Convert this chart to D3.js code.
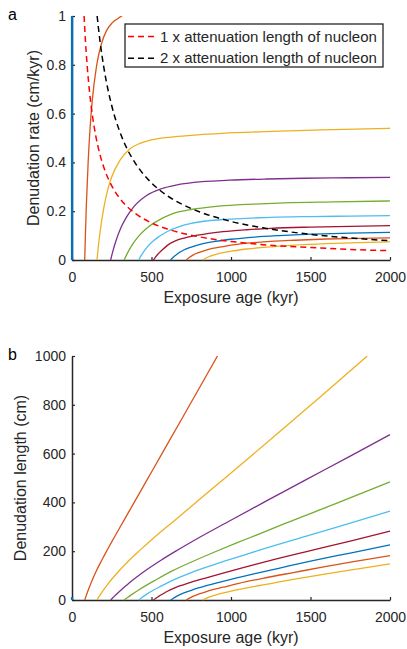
<!DOCTYPE html>
<html><head><meta charset="utf-8">
<script src="https://cdn.jsdelivr.net/npm/d3@7"></script>
<style>body{margin:0;background:#fff}svg{display:block;font-family:"Liberation Sans",Arial,sans-serif}</style>
</head><body><svg id="c" width="407" height="649"></svg>
<script>
const colors = ["#0072BD","#D95319","#EDB120","#7E2F8E","#77AC30","#4DBEEE","#A2142F","#0072BD","#D95319","#EDB120"];
const xTicks = [0,500,1000,1500,2000];
const rateTicks = [0,0.2,0.4,0.6,0.8,1];
const lenTicks = [0,200,400,600,800,1000];
const legendLabels = ["1 x attenuation length of nucleon","2 x attenuation length of nucleon"];

// Panel a: denudation rate (cm/kyr) vs exposure age (kyr)
const rateAge0 = [0,0], rate0 = [0,1];
const rateAge1 = [80,84.1,90.4,101.7,113.7,126.6,154.5,185.1,217.9,252.6,288.7,326,400];
const rate1    = [0,0.0975,0.227,0.403,0.541,0.648,0.796,0.886,0.941,0.972,0.99,1.006,1.03];
const rateAge2 = [157,165,177.4,199.5,223.2,248.4,303.1,363.2,427.6,495.7,639.8,790.1,944,1256,1570,2000];
const rate2    = [0,0.0512,0.119,0.212,0.284,0.338,0.41,0.455,0.478,0.492,0.505,0.513,0.519,0.527,0.533,0.54];
const rateAge3 = [243,255.4,274.6,308.8,345.4,384.4,469.2,562.1,661.8,767.3,990.2,1223,1461,1750,2000];
const rate3    = [0,0.032,0.075,0.134,0.179,0.215,0.264,0.292,0.308,0.318,0.327,0.332,0.335,0.337,0.339];
const rateAge4 = [328,344.7,370.7,416.8,466.2,518.9,633.3,758.7,893.2,1035.7,1183.7,1336.6,1650.7,2000];
const rate4    = [0,0.023,0.054,0.0955,0.128,0.153,0.19,0.208,0.219,0.226,0.23,0.234,0.238,0.242];
const rateAge5 = [420,432,450,475,500,550,600,675,750,850,950,1100,1250,1500,1750,2000];
const rate5    = [0,0.015,0.033,0.055,0.072,0.097,0.117,0.137,0.15,0.16,0.166,0.171,0.175,0.178,0.18,0.182];
const rateAge6 = [512,525,545,570,600,650,700,750,850,950,1100,1250,1500,1750,2000];
const rate6    = [0,0.012,0.027,0.043,0.06,0.078,0.089,0.097,0.108,0.116,0.124,0.13,0.135,0.138,0.141];
const rateAge7 = [620,635,660,700,750,800,900,1000,1150,1300,1500,1750,2000];
const rate7    = [0,0.01,0.024,0.04,0.053,0.063,0.076,0.085,0.094,0.1,0.106,0.11,0.113];
const rateAge8 = [718,735,760,800,850,950,1050,1200,1400,1600,1800,2000];
const rate8    = [0,0.009,0.02,0.031,0.042,0.055,0.065,0.074,0.081,0.086,0.089,0.091];
const rateAge9 = [822,840,870,920,1000,1100,1250,1400,1600,1800,2000];
const rate9    = [0,0.007,0.016,0.026,0.036,0.045,0.054,0.061,0.067,0.071,0.074];
const att1Age  = [76,85,95,110,130,150,175,200,250,300,350,400,500,600,800,1000,1200,1500,1800,2000];
const att1Rate = [1.0,0.894,0.8,0.691,0.585,0.507,0.434,0.38,0.304,0.253,0.217,0.19,0.152,0.127,0.095,0.076,0.063,0.051,0.042,0.038];
const att2Age  = [158,175,200,250,300,350,400,500,600,700,800,1000,1200,1500,1800,2000];
const att2Rate = [1.0,0.903,0.79,0.632,0.527,0.451,0.395,0.316,0.263,0.226,0.198,0.158,0.132,0.105,0.088,0.079];

// Panel b: denudation length (cm) vs exposure age (kyr)
const lenAge0 = [0,0], len0 = [0,12];
const lenAge1 = [80,90,100,115,130,150,175,200,230,260,300,350,420,511,700,915];
const len1    = [0,19,37,62,86,115,148,179,215,250,296,353,433,537,753,1000];
const lenAge2 = [157,165,177.4,199.5,223.2,248.4,303.1,363.2,427.6,495.7,639.8,790.1,944,1256,1570,1857];
const len2    = [0,8.4,21.1,42.3,63.4,84,124.3,165.3,204.4,243.9,323.1,405.3,489.9,661.9,836.8,1000];
const lenAge3 = [243,255.4,274.6,308.8,345.4,384.4,469.2,562.1,661.8,767.3,990.2,1223,1461,1750,2000];
const len3    = [0,8.2,20.6,41.4,61.8,82.6,123.9,164.1,203.8,244,323.8,406,489.4,589.8,678];
const lenAge4 = [328,344.7,370.7,416.8,466.2,518.9,633.3,758.7,893.2,1035.7,1183.7,1336.6,1650.7,2000];
const len4    = [0,7.9,20,39.8,59.7,79.4,120.3,157.8,195.6,234.1,272.3,312.8,392.9,484];
const lenAge5 = [420,432,450,475,500,550,600,675,750,850,950,1100,1250,1500,1750,2000];
const len5    = [0,6.5,14.9,26.1,36,53.4,70.2,92.5,112.5,136,157.7,188.1,218.8,267,315,364];
const lenAge6 = [512,525,545,570,600,650,700,750,850,950,1100,1250,1500,1750,2000];
const len6    = [0,6.3,14.7,24.5,36,50.7,62.3,72.8,91.8,110.2,136.4,162.5,202.5,241.5,282];
const lenAge7 = [620,635,660,700,750,800,900,1000,1150,1300,1500,1750,2000];
const len7    = [0,6.4,15.8,28,39.8,50.4,68.4,85,108.1,130,159,192.5,226];
const lenAge8 = [718,735,760,800,850,950,1050,1200,1400,1600,1800,2000];
const len8    = [0,6.6,15.2,24.8,35.7,52.3,68.3,88.8,113.4,137.6,160.2,182];
const lenAge9 = [822,840,870,920,1000,1100,1250,1400,1600,1800,2000];
const len9    = [0,5.9,13.9,23.9,36,49.5,67.5,85.4,107.2,127.8,148];

const rateSeries = [[rateAge0,rate0],[rateAge1,rate1],[rateAge2,rate2],[rateAge3,rate3],[rateAge4,rate4],[rateAge5,rate5],[rateAge6,rate6],[rateAge7,rate7],[rateAge8,rate8],[rateAge9,rate9]];
const lenSeries = [[lenAge0,len0],[lenAge1,len1],[lenAge2,len2],[lenAge3,len3],[lenAge4,len4],[lenAge5,len5],[lenAge6,len6],[lenAge7,len7],[lenAge8,len8],[lenAge9,len9]];

const svg = d3.select("#c");
const axisCol = "#262626";
const zip = (a,b) => a.map((v,i)=>[v,b[i]]);

function panel(opts){
  const x = d3.scaleLinear().domain([0,2000]).range([72,390]);
  const y = d3.scaleLinear().domain(opts.ydom).range([opts.bottom, opts.top]);
  const g = svg.append("g");
  const cid = "clip"+opts.id;
  svg.append("clipPath").attr("id",cid).append("rect")
    .attr("x",70).attr("y",opts.top).attr("width",322).attr("height",opts.bottom-opts.top+1);
  const line = d3.line().x(d=>x(d[0])).y(d=>y(d[1])).curve(d3.curveMonotoneX);
  const lineLin = d3.line().x(d=>x(d[0])).y(d=>y(d[1]));
  const ax = g.append("g").attr("transform",`translate(0,${opts.bottom})`)
    .call(d3.axisBottom(x).tickValues(xTicks).tickSizeInner(-3).tickSizeOuter(0).tickPadding(12).tickFormat(d3.format("d")));
  const ay = g.append("g").attr("transform",`translate(72,0)`)
    .call(d3.axisLeft(y).tickValues(opts.yticks).tickSizeInner(-3).tickSizeOuter(0).tickPadding(6).tickFormat(opts.fmt));
  [ax,ay].forEach(a=>{
    a.select(".domain").attr("stroke",axisCol).attr("stroke-width",1.5);
    a.selectAll(".tick line").attr("stroke",axisCol).attr("stroke-width",1.2);
    a.selectAll("text").attr("fill",axisCol).attr("font-size","14px").attr("font-family","Liberation Sans, Arial, sans-serif");
  });
  const pg = g.append("g").attr("clip-path",`url(#${cid})`);
  opts.series.forEach((s,i)=>{
    const pts = zip(s[0],s[1]);
    pg.append("path").attr("d", i===0 ? lineLin(pts) : line(pts)).attr("fill","none")
      .attr("stroke",colors[i]).attr("stroke-width", i===0 ? 2.2 : 1.3);
  });
  (opts.dashed||[]).forEach(dsh=>{
    pg.append("path").attr("d",line(zip(dsh.ages,dsh.vals))).attr("fill","none")
      .attr("stroke",dsh.color).attr("stroke-width",1.5).attr("stroke-dasharray","6,4");
  });
  g.append("text").attr("x",231).attr("y",opts.bottom+43).attr("text-anchor","middle")
    .attr("font-size","16px").attr("fill",axisCol).text("Exposure age (kyr)");
  g.append("text").attr("transform",`translate(${opts.ylabX},${(opts.top+opts.bottom)/2}) rotate(-90)`)
    .attr("text-anchor","middle").attr("dy","0.35em").attr("font-size","16px").attr("fill",axisCol).text(opts.ylabel);
  g.append("text").attr("x",8).attr("y",opts.top+4).attr("font-size","16px").attr("fill","#000").text(opts.id);
  return {x,y,g};
}

panel({id:"a", ydom:[0,1], top:16, bottom:260, yticks:rateTicks, fmt:d3.format("~g"),
  series:rateSeries, ylabel:"Denudation rate (cm/kyr)", ylabX:33,
  dashed:[{ages:att1Age, vals:att1Rate, color:"#FF0000"},{ages:att2Age, vals:att2Rate, color:"#000000"}]});
panel({id:"b", ydom:[0,1000], top:356, bottom:600, yticks:lenTicks, fmt:d3.format("d"),
  series:lenSeries, ylabel:"Denudation length (cm)", ylabX:20});

const lg = svg.append("g");
lg.append("rect").attr("x",125).attr("y",24).attr("width",258).attr("height",43)
  .attr("fill","#fff").attr("stroke",axisCol).attr("stroke-width",1.3);
const legColors = ["#FF0000","#000000"];
legendLabels.forEach((t,i)=>{
  const yy = 36.5 + i*21.7;
  lg.append("line").attr("x1",128).attr("x2",158).attr("y1",yy).attr("y2",yy)
    .attr("stroke",legColors[i]).attr("stroke-width",1.5).attr("stroke-dasharray","6,4");
  lg.append("text").attr("x",160).attr("y",yy).attr("dy","0.35em").attr("font-size","15px").attr("fill",axisCol).text(t);
});
</script></body></html>
